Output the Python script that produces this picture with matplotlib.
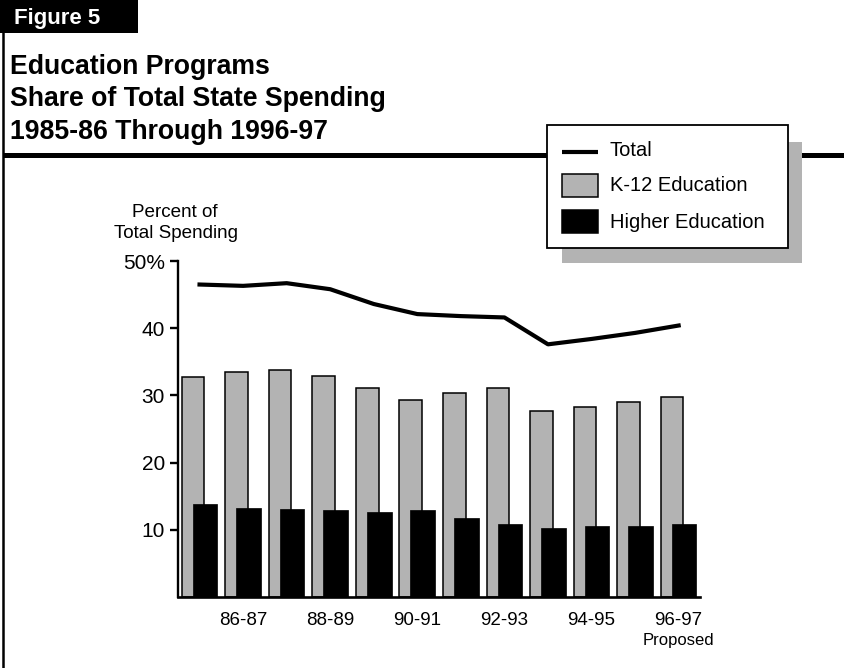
import matplotlib
matplotlib.use("Agg")
import matplotlib.pyplot as plt
from matplotlib.patches import Rectangle
from matplotlib.lines import Line2D
import numpy as np

plt.rcParams['font.family'] = ['Liberation Sans', 'DejaVu Sans']

# ---- data -------------------------------------------------------------
years = ['85-86', '86-87', '87-88', '88-89', '89-90', '90-91',
         '91-92', '92-93', '93-94', '94-95', '95-96', '96-97']
total_share = [46.5, 46.3, 46.7, 45.8, 43.6, 42.1, 41.8, 41.6, 37.6, 38.4, 39.3, 40.4]
k12_share = [32.8, 33.5, 33.8, 32.9, 31.1, 29.3, 30.3, 31.1, 27.7, 28.2, 29.0, 29.7]
higher_share = [13.9, 13.2, 13.1, 13.0, 12.7, 12.9, 11.7, 10.8, 10.2, 10.5, 10.6, 10.9]
shown_years = ['86-87', '88-89', '90-91', '92-93', '94-95', '96-97']
y_ticks = [10, 20, 30, 40, 50]
y_tick_labels = ['10', '20', '30', '40', '50%']
legend_labels = ['Total', 'K-12 Education', 'Higher Education']
title_lines = ['Education Programs', 'Share of Total State Spending', '1985-86 Through 1996-97']

# ---- style ------------------------------------------------------------
W, H = 844, 668
GRAY = '#b3b3b3'
fig = plt.figure(figsize=(W / 100, H / 100), dpi=100)


def fx(px):
    return px / W


def fy(py):
    return 1 - py / H


def frect(x0, y0, x1, y1, **kw):
    fig.add_artist(Rectangle((fx(x0), fy(y1)), fx(x1) - fx(x0), fy(y0) - fy(y1),
                             transform=fig.transFigure, **kw))


def fline(xs, ys, **kw):
    fig.add_artist(Line2D([fx(v) for v in xs], [fy(v) for v in ys],
                          transform=fig.transFigure, **kw))


# header block, frame rules
frect(0, 0, 138, 33, facecolor='black', edgecolor='none', zorder=2)
fig.text(fx(14), fy(18.5), 'Figure 5', color='white', fontsize=16,
         fontweight='bold', va='center', ha='left', zorder=3)
fline([3, 3], [30, H], color='black', lw=1.8, zorder=2, solid_capstyle='butt')
fline([3, W], [154.5, 154.5], color='black', lw=3.6, zorder=2, solid_capstyle='butt')

for i, line in enumerate(title_lines):
    fig.text(fx(10), fy(74 + 32.5 * i), line, fontsize=19.2, fontweight='bold',
             ha='left', va='baseline', color='black')

# legend with drop shadow
frect(562, 142, 802, 263, facecolor=GRAY, edgecolor='none', zorder=4)
frect(547, 125, 788, 248, facecolor='white', edgecolor='black', lw=1.3, zorder=5)
fline([562, 598], [152, 152], color='black', lw=3, zorder=6, solid_capstyle='butt')
frect(562, 174, 598, 197, facecolor=GRAY, edgecolor='black', lw=1.1, zorder=6)
frect(562, 210, 598, 233, facecolor='black', edgecolor='black', lw=1.1, zorder=6)
for lab, yc in zip(legend_labels, [150, 186, 222]):
    fig.text(fx(610), fy(yc), lab, fontsize=14.5, ha='left', va='center', zorder=7)

# ---- chart ------------------------------------------------------------
ax = fig.add_axes([fx(177.5), fy(597), fx(700) - fx(177.5), fy(261) - fy(597)])
x = np.arange(len(years))
gray_w = 0.52
black_w = 0.565
black_shift = 0.275
center_shift = 0.15

ax.bar(x, k12_share, width=gray_w, color=GRAY, edgecolor='black', linewidth=1.1, zorder=2)
ax.bar(x + black_shift, higher_share, width=black_w, color='black', edgecolor='black',
       linewidth=0.5, zorder=3)
ax.plot(x + center_shift, total_share, color='black', lw=3, zorder=4,
        solid_joinstyle='round')

ax.set_xlim(-0.356, 11.64)
ax.set_ylim(0, 50)
for s in ['top', 'right']:
    ax.spines[s].set_visible(False)
ax.spines['left'].set_linewidth(1.7)
ax.spines['bottom'].set_linewidth(1.9)
ax.set_yticks(y_ticks)
ax.set_yticklabels(y_tick_labels, fontsize=15)
ax.tick_params(axis='y', direction='out', length=6, width=1.7, pad=3)
tick_pos = [years.index(t) + center_shift for t in shown_years]
ax.set_xticks(tick_pos)
ax.set_xticklabels(shown_years, fontsize=13.5)
ax.tick_params(axis='x', length=0, pad=10.5)
ax.text(11 + center_shift, -6.5, 'Proposed', fontsize=12, ha='center', va='center')

fig.text(fx(175), fy(213), 'Percent of', fontsize=13.6, ha='center', va='center')
fig.text(fx(176), fy(234), 'Total Spending', fontsize=13.6, ha='center', va='center')

fig.savefig('out.png', dpi=100)
